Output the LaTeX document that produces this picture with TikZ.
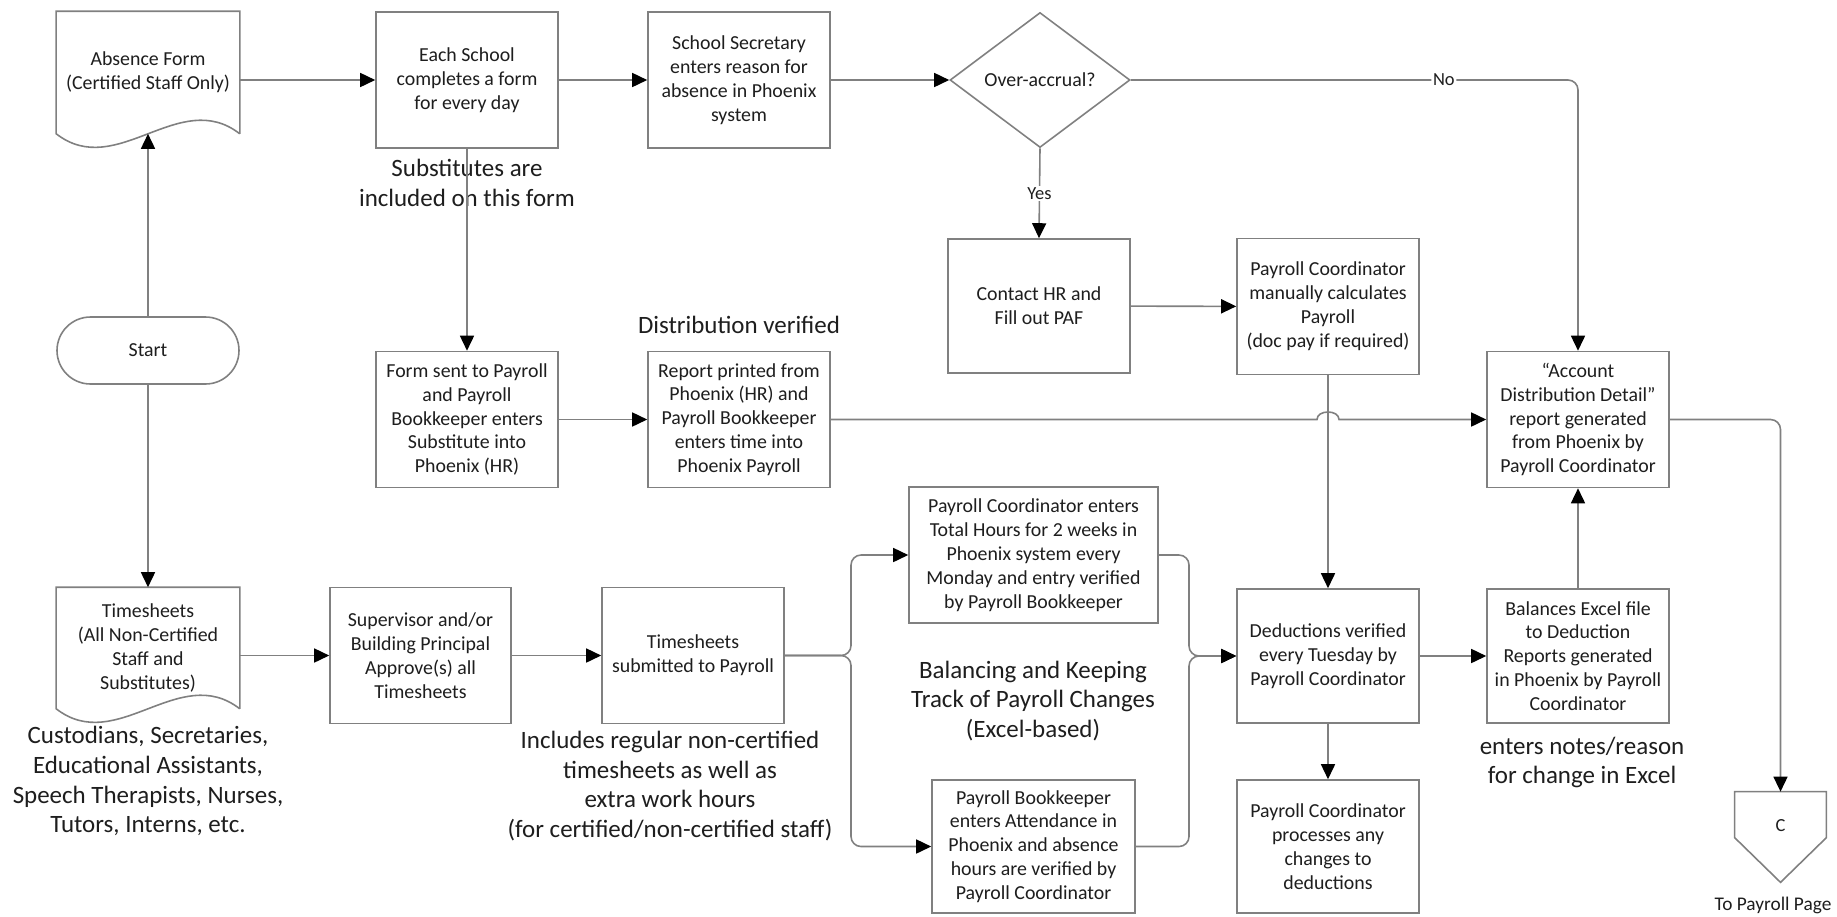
\documentclass[tikz,border=0pt]{standalone}
\usepackage{fontspec}
\setmainfont{Carlito}
\usetikzlibrary{arrows.meta,positioning,calc,shapes.geometric}
\definecolor{linegray}{RGB}{128,128,128}
\definecolor{inkgray}{RGB}{30,30,30}

\begin{document}
\begin{tikzpicture}[
  x=0.2mm, y=-0.2mm,
  proc/.style={draw=linegray,line width=0.9pt,minimum width=36.4mm,minimum height=27.2mm,align=center,inner sep=1mm,text=inkgray,font={\fontsize{11.3pt}{13.6pt}\selectfont}},
  docbody/.style={proc,draw=none,minimum height=24.2mm},
  decide/.style={proc,diamond,aspect=1.33,minimum width=36mm,minimum height=27mm,inner sep=0pt},
  term/.style={proc,rounded corners=6.7mm,minimum height=13.4mm},
  boxline/.style={draw=linegray,line width=0.9pt},
  arr/.style={-{Triangle[color=black,length=3mm,width=2.8mm]},draw=linegray,line width=0.9pt},
  rc/.style={rounded corners=2mm},
  note/.style={align=center,text=inkgray,font={\fontsize{14.2pt}{17pt}\selectfont}},
  lbl/.style={fill=white,inner sep=1pt,text=inkgray,font={\fontsize{10.5pt}{12pt}\selectfont}}
]
\path[fill=white] (0,0) rectangle (1837,916);
\useasboundingbox (0,0) rectangle (1837,916);

% top row
\node[docbody] (absence) at (148,72.5) {Absence Form\\(Certified Staff Only)};
\node[proc] (school) at (467,80) {Each School\\completes a form\\for every day};
\node[proc] (secretary) at (739,80) {School Secretary\\enters reason for\\absence in Phoenix\\system};
\node[decide] (accrual) at (1040,80) {Over-accrual?};
\node[proc,minimum height=26.8mm] (contact) at (1039,306) {Contact HR and\\Fill out PAF};
\node[proc] (manual) at (1328,306.5) {Payroll Coordinator\\manually calculates\\Payroll\\(doc pay if required)};

% middle row
\node[term] (start) at (148,350.5) {Start};
\node[proc] (formsent) at (467,419.5) {Form sent to Payroll\\and Payroll\\Bookkeeper enters\\Substitute into\\Phoenix (HR)};
\node[proc] (report) at (739,419.5) {Report printed from\\Phoenix (HR) and\\Payroll Bookkeeper\\enters time into\\Phoenix Payroll};
\node[proc] (add) at (1578,419.5) {“Account\\Distribution Detail”\\report generated\\from Phoenix by\\Payroll Coordinator};

% bottom row
\node[docbody,minimum height=24mm] (timesh) at (148,648) {Timesheets\\(All Non-Certified\\Staff and\\Substitutes)};
\node[proc,minimum width=36.2mm] (supervisor) at (420.5,655.5) {Supervisor and/or\\Building Principal\\Approve(s) all\\Timesheets};
\node[proc] (tsub) at (693,655.5) {Timesheets\\submitted to Payroll};
\node[proc,minimum width=49.8mm] (tothours) at (1033.5,555) {Payroll Coordinator enters\\Total Hours for 2 weeks in\\Phoenix system every\\Monday and entry verified\\by Payroll Bookkeeper};
\node[proc,minimum width=40.6mm,minimum height=26.6mm] (attend) at (1033.5,846.5) {Payroll Bookkeeper\\enters Attendance in\\Phoenix and absence\\hours are verified by\\Payroll Coordinator};
\node[proc,minimum height=26.8mm] (deduct) at (1328,656) {Deductions verified\\every Tuesday by\\Payroll Coordinator};
\node[proc,minimum height=26.8mm] (balance) at (1578,656) {Balances Excel file\\to Deduction\\Reports generated\\in Phoenix by Payroll\\Coordinator};
\node[proc,minimum height=26.6mm] (process) at (1328,846.5) {Payroll Coordinator\\processes any\\changes to\\deductions};

% off-page connector
\node[inner sep=0pt,minimum width=18.2mm,text height=7.8mm,text depth=10.2mm,text=inkgray,font={\fontsize{10.5pt}{12pt}\selectfont}] (offpg) at (1780.5,837) {C};
\draw[boxline] (offpg.north west) -- (offpg.north east) -- ($(offpg.north east)+(0,46)$) -- (offpg.south) -- ($(offpg.north west)+(0,46)$) -- cycle;
\node[text=inkgray,font={\fontsize{11pt}{13pt}\selectfont}] (topage) at (1773,905) {To Payroll Page};

% document shapes
\foreach \docname in {absence,timesh}
  \draw[boxline] (\docname.south east) -- (\docname.north east) -- (\docname.north west) -- (\docname.south west)
    .. controls ($(\docname.south west)!0.33!(\docname.south east)+(0,47)$) and ($(\docname.south west)!0.67!(\docname.south east)+(0,-47)$) .. (\docname.south east);

% notes
\node[note] (subsnote) at (467,182.5) {Substitutes are\\included on this form};
\node[note] (distnote) at (739,325) {Distribution verified};
\node[note] (custnote) at (148,781) {Custodians, Secretaries,\\Educational Assistants,\\Speech Therapists, Nurses,\\Tutors, Interns, etc.};
\node[note] (inclnote) at (670,786) {Includes regular non-certified\\timesheets as well as\\extra work hours\\(for certified/non-certified staff)};
\node[note] (balnote) at (1033,701) {Balancing and Keeping\\Track of Payroll Changes\\(Excel-based)};
\node[note] (notesnote) at (1582,762.5) {enters notes/reason\\for change in Excel};

% connectors
\coordinate (split) at (851,655.5);
\coordinate (merge) at (1189,656);
\draw[arr] (start) -- (absence.south);
\draw[arr] (start) -- (timesh.north);
\draw[arr] (absence.east |- school.west) -- (school.west);
\draw[arr] (school) -- (secretary);
\draw[arr] (secretary) -- (accrual);
\draw[arr] (accrual.south) -- node[lbl]{Yes} (contact.north);
\draw[arr,rc] (accrual.east) -- node[lbl,pos=0.7]{No} (accrual.east -| add.north) -- (add.north);
\draw[arr] (contact) -- (manual);
\draw[arr] (school) -- (formsent);
\draw[arr] (formsent) -- (report);
\draw[arr] (manual) -- (deduct);
\draw[arr] (report.east) -- ($(report.east -| manual)+(-11,0)$) .. controls +(0,-10) and +(0,-10) .. ($(report.east -| manual)+(11,0)$) -- (add.west);
\draw[arr,rc] (add.east) -| (offpg.north);
\draw[arr] (timesh.east |- supervisor.west) -- (supervisor);
\draw[arr] (supervisor) -- (tsub);
\draw[arr,rc] (tsub.east) -- (split) |- (tothours.west);
\draw[arr,rc] (tsub.east) -- (split) |- (attend.west);
\draw[arr,rc] (tothours.east) -| (merge) -- (deduct.west);
\draw[arr,rc] (attend.east) -| (merge) -- (deduct.west);
\draw[arr] (deduct) -- (balance);
\draw[arr] (balance) -- (add);
\draw[arr] (deduct) -- (process);
\end{tikzpicture}
\end{document}
